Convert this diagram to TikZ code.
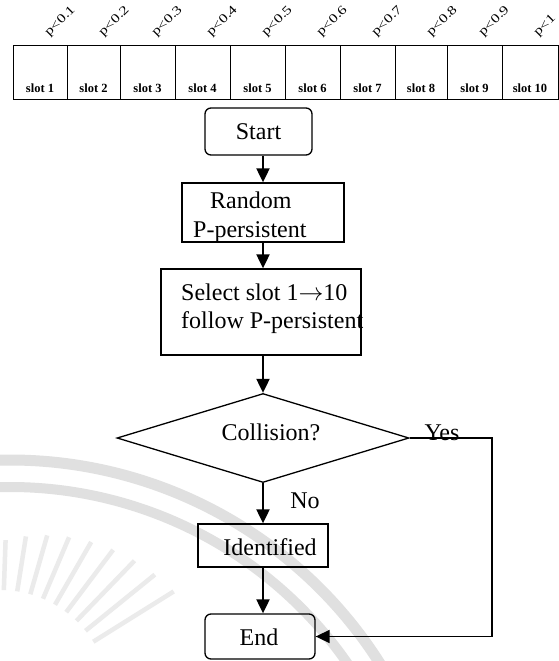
\documentclass[tikz,border=0pt]{standalone}
\usepackage{fontspec}
\setmainfont{Liberation Serif}
\usetikzlibrary{shapes.geometric,arrows.meta,calc}
\begin{document}
\begin{tikzpicture}[x=1pt,y=-1pt,
  box/.style={draw,line width=1.3pt,inner sep=0pt},
  rbox/.style={box,rounded corners=6pt},
  conn/.style={line width=2pt,-{Triangle[length=14pt,width=13pt]}},
  yesline/.style={line width=1.6pt,-{Triangle[length=14pt,width=13pt]}},
  txt/.style={font=\fontsize{24}{26}\selectfont,inner sep=0pt},
  slotlbl/.style={font=\fontsize{12.5}{12}\selectfont\bfseries,inner sep=0pt},
  plbl/.style={font=\fontsize{12.5}{12}\selectfont,inner sep=0pt,rotate=45,anchor=base west},
  wmark/.style={draw=black!12,line width=11pt},
  wray/.style={draw=black!8,line width=4.5pt},
]
\useasboundingbox[fill=white] (0,0) rectangle (559,661);
% faint watermark
\begin{scope}
\clip (0,0) rectangle (559,661);
\draw[wmark] ($(10,898)+(-93:438)$) arc[start angle=-93,end angle=-25,radius=438];
\draw[wmark,line width=10pt] ($(10,898)+(-93:411)$) arc[start angle=-93,end angle=-25,radius=411];
\foreach \a in {-88,-81,...,-28}{
  \pgfmathsetmacro{\ro}{160+(\a+88)*0.8}
  \draw[wray] ($(0,700)+(\a:110)$) -- ($(0,700)+(\a:\ro)$);
}
\end{scope}
% slot table
\foreach \l/\r/\i in {13/67/1,67/120/2,120/175/3,175/230/4,230/285/5,285/340/6,340/395/7,395/447/8,447/502/9,502/558/10}{
  \pgfmathsetmacro{\w}{\r-\l}
  \pgfmathsetmacro{\c}{(\r+\l)/2}
  \node[box,minimum width=\w pt,minimum height=54pt,anchor=north west] (slot\i) at (\l,45) {};
  \node[slotlbl] (slotl\i) at (\c,88) {slot \i};
}
\foreach \l/\t [count=\k] in {13/p<0.1,67/p<0.2,120/p<0.3,175/p<0.4,230/p<0.5,285/p<0.6,340/p<0.7,395/p<0.8,447/p<0.9,502/p<1}{
  \node[plbl] (p\k) at (\l+36,37) {\scalebox{1.3}[1]{\t}};
}
% flowchart
\node[rbox,txt,minimum width=107pt,minimum height=47pt] (start) at (258.5,131.5) {Start};
\node[box,minimum width=162pt,minimum height=59pt] (random) at (263,212.5) {};
\node[txt,anchor=base west] (rand1) at (210,208) {Random};
\node[txt,anchor=base west] (rand2) at (193,237) {P-persistent};
\node[box,minimum width=200pt,minimum height=86pt] (select) at (261,312) {};
\node[txt,anchor=base west] (sel1) at (181,300) {Select slot 1$\mathord{\rightarrow}$10};
\node[txt,anchor=base west] (sel2) at (181,328) {follow P-persistent};
\node[diamond,draw,line width=1.3pt,inner sep=0pt,minimum width=292pt,minimum height=89pt] (coll) at (263,438) {};
\node[txt,anchor=base] (colltxt) at (271,440) {Collision?};
\node[txt,anchor=base] (yes) at (442,440) {Yes};
\node[txt,anchor=base] (no) at (305,508) {No};
\node[box,minimum width=130pt,minimum height=43pt] (ident) at (263,545.5) {};
\node[txt,anchor=base] (identtxt) at (270,555) {Identified};
\node[rbox,minimum width=110pt,minimum height=45pt] (end) at (260,636.5) {};
\node[txt,anchor=base] (endtxt) at (259,645) {End};
\coordinate (y1) at (492,438);
\coordinate (y2) at (492,636.5);
% connectors
\draw[conn] (random.north |- start.south) -- (random.north);
\draw[conn] (random.south) -- (random.south |- select.north);
\draw[conn] (coll.north |- select.south) -- (coll.north);
\draw[conn] (coll.south) -- (coll.south |- ident.north);
\draw[conn] (ident.south) -- (ident.south |- end.north);
\draw[yesline] (coll.east) -- (y1) -- (y2) -- (end.east);
\end{tikzpicture}
\end{document}
